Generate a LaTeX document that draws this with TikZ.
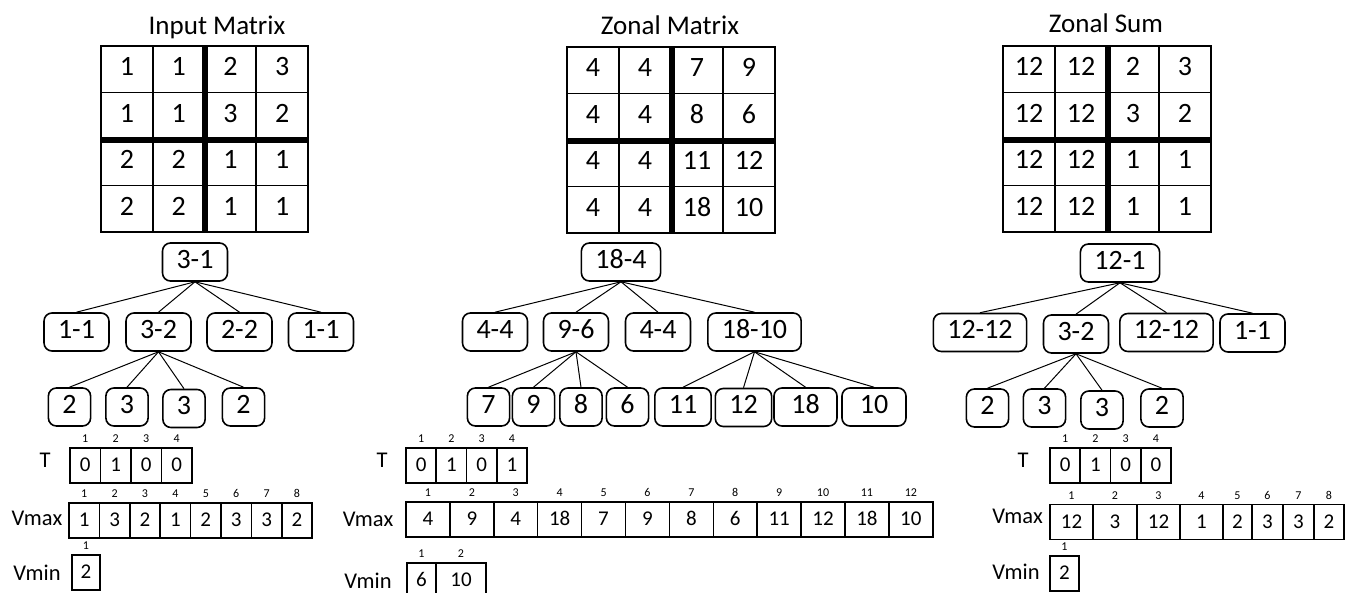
\documentclass[tikz,border=0pt]{standalone}
\usepackage{fontspec}
\setmainfont{Carlito}
\usetikzlibrary{positioning}

\tikzset{
  cell/.style={draw, line width=0.75pt, minimum width=26pt, minimum height=23.25pt,
    inner sep=0pt, text height=0.63em, text depth=0pt, font=\fontsize{14}{14}\selectfont},
  tnode/.style={draw, rounded corners=4pt, line width=0.8pt, minimum width=20.5pt,
    minimum height=19pt, inner xsep=7pt, inner ysep=0pt, text height=0.63em, text depth=0pt,
    font=\fontsize{14}{14}\selectfont},
  arr/.style={draw, line width=0.75pt, minimum height=17.5pt, inner sep=0pt,
    text height=0.63em, text depth=0pt, font=\fontsize{10.5}{10.5}\selectfont},
  idx/.style={inner sep=0pt, font=\fontsize{6}{6}\selectfont},
  lbl/.style={inner sep=0pt, font=\fontsize{11.25}{11.25}\selectfont},
  ttl/.style={anchor=base, inner sep=0pt, font=\fontsize{13.5}{13.5}\selectfont},
  sep/.style={line width=3pt},
  link/.style={line width=0.5pt}
}

\begin{document}
\begin{tikzpicture}[x=0.5pt,y=-0.5pt]
    \useasboundingbox (0,0) rectangle (1351,593);

    % titles
    \node[ttl] (t-in) at (217,35) {Input Matrix};
    \node[ttl] (t-zm) at (670,35) {Zonal Matrix};
    \node[ttl] (t-zs) at (1106,33) {Zonal Sum};

    % input matrix
    \foreach \row [count=\r] in {{1,1,2,3},{1,1,3,2},{2,2,1,1},{2,2,1,1}}
      \foreach \v [count=\c] in \row
        \node[cell] (in-\r-\c) at ({101+51.75*(\c-0.5)},{46+46.5*(\r-0.5)}) {\v};
    \draw[sep] (in-1-2.north east) -- (in-4-2.south east);
    \draw[sep] (in-2-1.south west) -- (in-2-4.south east);

    % zonal matrix
    \foreach \row [count=\r] in {{4,4,7,9},{4,4,8,6},{4,4,11,12},{4,4,18,10}}
      \foreach \v [count=\c] in \row
        \node[cell] (zm-\r-\c) at ({567+52*(\c-0.5)},{47+46.5*(\r-0.5)}) {\v};
    \draw[sep] (zm-1-2.north east) -- (zm-4-2.south east);
    \draw[sep] (zm-2-1.south west) -- (zm-2-4.south east);

    % zonal sum
    \foreach \row [count=\r] in {{12,12,2,3},{12,12,3,2},{12,12,1,1},{12,12,1,1}}
      \foreach \v [count=\c] in \row
        \node[cell] (zs-\r-\c) at ({1003+52*(\c-0.5)},{46+46.5*(\r-0.5)}) {\v};
    \draw[sep] (zs-1-2.north east) -- (zs-4-2.south east);
    \draw[sep] (zs-2-1.south west) -- (zs-2-4.south east);

    % left tree
    \node[tnode] (l-root) at (195,262) {3-1};
    \node[tnode] (l-a1) at (76.5,332) {1-1};
    \node[tnode] (l-a2) at (158.5,332) {3-2};
    \node[tnode] (l-a3) at (239.5,332) {2-2};
    \node[tnode] (l-a4) at (321,332) {1-1};
    \node[tnode] (l-b1) at (69.5,407) {2};
    \node[tnode] (l-b2) at (127,407) {3};
    \node[tnode] (l-b3) at (184,408.5) {3};
    \node[tnode] (l-b4) at (243.5,407) {2};
    \foreach \n in {a1,a2,a3,a4}
      \draw[link] (l-root.south) -- (l-\n.north);
    \foreach \n in {b1,b2,b3,b4}
      \draw[link] (l-a2.south) -- (l-\n.north);

    % middle tree
    \node[tnode] (m-root) at (621,262) {18-4};
    \node[tnode] (m-a1) at (495,332) {4-4};
    \node[tnode] (m-a2) at (576,332) {9-6};
    \node[tnode] (m-a3) at (658,332) {4-4};
    \node[tnode] (m-a4) at (754.5,332) {18-10};
    \node[tnode] (m-b1) at (488.5,407) {7};
    \node[tnode] (m-b2) at (533.5,407) {9};
    \node[tnode] (m-b3) at (581,407) {8};
    \node[tnode] (m-b4) at (627.5,407) {6};
    \node[tnode] (m-b5) at (683,407) {11};
    \node[tnode] (m-b6) at (743.5,407.5) {12};
    \node[tnode, minimum width=31.5pt] (m-b7) at (805.5,407) {18};
    \node[tnode, minimum width=32pt] (m-b8) at (874,407) {10};
    \foreach \n in {a1,a2,a3,a4}
      \draw[link] (m-root.south) -- (m-\n.north);
    \foreach \n in {b1,b2,b3,b4}
      \draw[link] (m-a2.south) -- (m-\n.north);
    \foreach \n in {b5,b6,b7,b8}
      \draw[link] (m-a4.south) -- (m-\n.north);

    % right tree
    \node[tnode] (r-root) at (1120,263) {12-1};
    \node[tnode] (r-a1) at (980,332.5) {12-12};
    \node[tnode] (r-a2) at (1076,334) {3-2};
    \node[tnode] (r-a3) at (1166.5,332.5) {12-12};
    \node[tnode] (r-a4) at (1252.5,333) {1-1};
    \node[tnode] (r-b1) at (987.5,408) {2};
    \node[tnode] (r-b2) at (1044.5,408) {3};
    \node[tnode] (r-b3) at (1102,410) {3};
    \node[tnode] (r-b4) at (1162,408) {2};
    \foreach \n in {a1,a2,a3,a4}
      \draw[link] (r-root.south) -- (r-\n.north);
    \foreach \n in {b1,b2,b3,b4}
      \draw[link] (r-a2.south) -- (r-\n.north);

    % left arrays
    \node[lbl] (l-T) at (45,460) {T};
    \foreach \v [count=\i] in {0,1,0,0} {
      \node[arr, minimum width=15.25pt] (lt-\i) at ({70+30.5*(\i-0.5)},465.5) {\v};
      \node[idx, above=2pt of lt-\i] (lt-i\i) {\i};
    }
    \node[lbl] (l-max) at (37,518) {Vmax};
    \foreach \v [count=\i] in {1,3,2,1,2,3,3,2} {
      \node[arr, minimum width=15.2pt] (lx-\i) at ({69+30.4*(\i-0.5)},520.5) {\v};
      \node[idx, above=2pt of lx-\i] (lx-i\i) {\i};
    }
    \node[lbl] (l-min) at (37,573) {Vmin};
    \node[arr, minimum width=14pt] (ln-1) at (86,572.5) {2};
    \node[idx, above=2pt of ln-1] (ln-i1) {1};

    % middle arrays
    \node[lbl] (m-T) at (382,460) {T};
    \foreach \v [count=\i] in {0,1,0,1} {
      \node[arr, minimum width=15.1pt] (mt-\i) at ({406+30.25*(\i-0.5)},465.5) {\v};
      \node[idx, above=2pt of mt-\i] (mt-i\i) {\i};
    }
    \node[lbl] (m-max) at (368,519) {Vmax};
    \foreach \v [count=\i] in {4,9,4,18,7,9,8,6,11,12,18,10} {
      \node[arr, minimum width=21.95pt] (mx-\i) at ({406+43.9*(\i-0.5)},519.5) {\v};
      \node[idx, above=2pt of mx-\i] (mx-i\i) {\i};
    }
    \node[lbl] (m-min) at (368,581) {Vmin};
    \foreach \v/\x/\w [count=\i] in {6/421.5/14.5,10/461/25} {
      \node[arr, minimum width=\w pt] (mn-\i) at (\x,580.5) {\v};
      \node[idx, above=2pt of mn-\i] (mn-i\i) {\i};
    }

    % right arrays
    \node[lbl] (r-T) at (1023,460) {T};
    \foreach \v [count=\i] in {0,1,0,0} {
      \node[arr, minimum width=15.1pt] (rt-\i) at ({1050+30.25*(\i-0.5)},465.5) {\v};
      \node[idx, above=2pt of rt-\i] (rt-i\i) {\i};
    }
    \node[lbl] (r-max) at (1017.5,516) {Vmax};
    \foreach \v/\x/\w [count=\i] in {12/1071.5/21.5,3/1115/22,12/1158.5/21.5,1/1201.5/21.5,
        2/1237.5/14.5,3/1267.5/15.5,3/1298.5/15.5,2/1329/15} {
      \node[arr, minimum width=\w pt] (rx-\i) at (\x,522) {\v};
      \node[idx, above=2pt of rx-\i] (rx-i\i) {\i};
    }
    \node[lbl] (r-min) at (1016,572) {Vmin};
    \node[arr, minimum width=14.5pt] (rn-1) at (1064.5,573.5) {2};
    \node[idx, above=2pt of rn-1] (rn-i1) {1};
\end{tikzpicture}
\end{document}
